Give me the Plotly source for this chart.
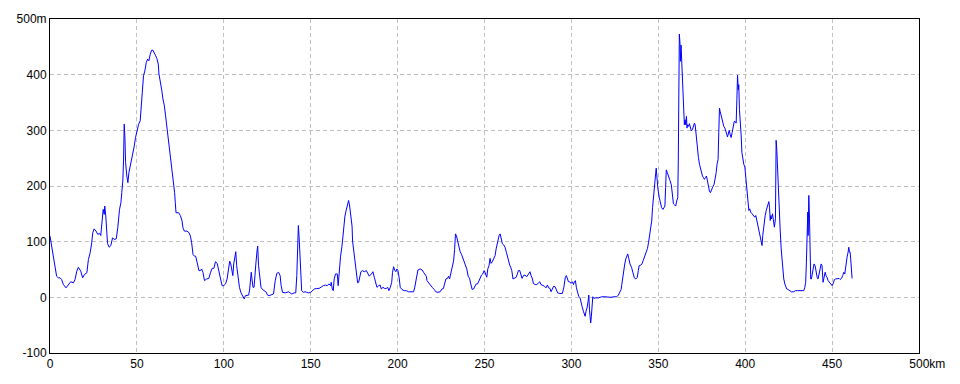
import plotly.graph_objects as go

# ---- elevation profile data (distance in km, elevation in m) ----
km_seg1 = [0, 1.0, 1.9, 2.9, 3.8, 4.8, 5.8, 6.7, 7.7, 9.2,
           10.6, 11.9, 13.5, 14.4, 15.4, 16.3, 17.7, 18.8, 19.8, 21.2,
           22.1, 23.1, 24.0, 24.6, 25.4, 26.5, 27.5, 28.5, 29.2, 29.8,
           30.6, 31.2, 31.5, 32.1, 32.5, 33.1, 34.0, 35.0, 36.0, 36.9,
           38.1, 39.0, 40.0, 40.8, 41.3, 41.9, 42.3, 42.7, 43.1, 43.5,
           44.2, 44.8, 45.4, 46.2, 46.9, 47.7, 48.5, 49.2, 50.0, 51.0,
           51.9, 52.5, 53.1, 53.8, 54.6, 55.4, 56.2, 56.9, 57.7, 58.5,
           59.2, 60.0, 60.8, 61.5, 62.3, 62.7, 63.5, 64.2, 65.0, 65.8,
           66.5, 67.1, 67.7, 68.5, 69.2, 70.0, 70.8, 71.2, 71.7, 72.1,
           72.5, 74.0, 75.0, 76.0, 76.5, 77.3, 78.8, 80.0, 80.8, 81.5,
           82.3, 83.1]
m_seg1 = [110, 92, 74, 56, 38, 35, 35, 32, 23, 17,
          23, 28, 26, 32, 47, 54, 47, 35, 41, 44,
          68, 80, 98, 116, 123, 119, 113, 115, 111, 134,
          158, 149, 164, 146, 119, 97, 90, 93, 107, 104,
          105, 125, 158, 170, 188, 209, 245, 311, 287, 242,
          218, 206, 224, 236, 245, 260, 272, 287, 299, 311,
          317, 350, 380, 398, 407, 422, 428, 425, 437, 444,
          444, 440, 434, 429, 419, 401, 389, 374, 356, 344,
          326, 311, 296, 272, 254, 233, 215, 200, 188, 170,
          152, 152, 147, 137, 125, 119, 119, 116, 110, 98,
          77, 74]

km_seg2 = [83.8, 84.7, 85.7, 86.6, 87.2, 88.0, 88.9, 90.1, 91.4, 92.4,
           93.3, 94.3, 95.2, 96.2, 97.1, 98.1, 99.0, 100.0, 101.0, 101.9,
           102.9, 103.4, 104.0, 104.6, 105.2, 105.7, 106.3, 106.9, 107.4, 108.2,
           109.0, 109.9, 110.9, 111.8, 112.4, 113.4, 114.3, 114.9, 115.5, 115.8,
           116.2, 116.8, 117.4, 117.9, 118.5, 119.1, 119.5, 120.0, 120.6, 121.4,
           122.3, 123.3, 124.2, 125.2, 126.1, 127.7, 128.6, 129.6, 130.5, 131.5,
           132.4, 133.0, 133.8, 135.3, 136.5, 137.2, 138.2, 139.1, 140.5, 141.4,
           142.0, 142.4, 142.9, 143.3, 143.7, 144.3, 144.8, 145.8, 146.8, 147.7,
           148.7, 150.0, 151.0, 152.1, 153.4, 154.8, 156.3, 157.3, 158.6, 159.5,
           160.5, 161.5, 161.8, 162.4, 163.0, 163.5, 164.3, 165.3, 165.8, 166.4,
           167.2]
m_seg2 = [74, 62, 48, 48, 51, 45, 30, 33, 34, 45,
          52, 52, 64, 61, 48, 33, 21, 21, 24, 33,
          57, 65, 60, 48, 39, 60, 74, 82, 57, 33,
          18, 8, 3, -3, 3, 4, 4, 15, 33, 45,
          33, 18, 18, 33, 62, 83, 92, 57, 33, 18,
          14, 12, 10, 4, 3, 5, 6, 30, 43, 45,
          39, 21, 9, 8, 9, 10, 8, 6, 8, 8,
          39, 80, 129, 110, 74, 21, 12, 9, 10, 9,
          8, 9, 12, 15, 16, 16, 19, 21, 22, 21,
          24, 21, 27, 15, 12, 33, 42, 42, 21, 51,
          74]

km_seg3 = [168.0, 168.6, 169.2, 169.7, 170.3, 170.9, 171.5, 171.8, 172.4, 173.2,
           173.8, 174.1, 174.7, 175.3, 175.9, 176.2, 177.0, 177.6, 178.2, 178.9,
           179.7, 180.8, 182.0, 182.8, 183.7, 184.9, 185.8, 186.6, 187.4, 188.1,
           189.1, 190.0, 190.6, 191.6, 192.5, 193.5, 194.3, 195.0, 195.8, 196.6,
           197.1, 197.7, 198.3, 199.0, 199.6, 200.2, 201.0, 201.5, 202.5, 203.8,
           205.0, 206.3, 207.7, 209.2, 209.8, 210.3, 210.9, 211.7, 213.0, 214.2,
           214.9, 215.7, 216.5, 216.9, 217.8, 218.8, 219.9, 221.1, 222.0, 223.2,
           224.5, 225.5, 226.4, 227.0, 227.8, 228.7, 229.3, 229.9, 230.5, 231.2,
           232.2, 232.8, 233.3, 233.9, 234.5, 235.2, 236.0, 236.8, 237.5, 238.3,
           239.1, 239.8, 240.6, 241.4, 242.1, 242.9, 243.7, 244.4, 245.2, 246.0,
           246.7, 247.5, 248.3, 249.0, 249.8]
m_seg3 = [92, 116, 134, 146, 155, 164, 170, 174, 164, 140,
          128, 101, 83, 71, 57, 39, 26, 27, 34, 46,
          48, 46, 48, 42, 38, 42, 46, 36, 27, 18,
          21, 22, 15, 18, 16, 16, 18, 12, 18, 27,
          45, 55, 49, 46, 51, 48, 33, 18, 14, 12,
          12, 10, 10, 10, 17, 27, 38, 49, 51, 49,
          45, 40, 38, 30, 26, 22, 18, 14, 10, 9,
          10, 15, 16, 24, 33, 34, 38, 33, 40, 51,
          65, 86, 114, 110, 101, 88, 82, 77, 71, 65,
          60, 51, 38, 34, 24, 14, 15, 20, 24, 24,
          30, 33, 40, 42, 48]

km_seg4 = [250.3, 251.3, 251.9, 252.6, 253.2, 253.8, 254.5, 255.3, 256.1, 256.7,
           257.2, 257.8, 258.4, 259.0, 259.5, 260.3, 261.1, 261.8, 262.6, 263.2,
           263.8, 264.5, 265.1, 265.7, 266.4, 267.2, 268.2, 268.9, 269.5, 270.3,
           270.8, 271.6, 272.4, 273.3, 274.3, 275.3, 276.2, 276.8, 277.6, 278.1,
           279.1, 280.1, 281.0, 281.8, 282.5, 283.3, 284.5, 285.4, 286.2, 286.9,
           287.7, 288.3, 289.1, 289.8, 290.6, 291.2, 292.1, 293.3, 294.8, 295.6,
           296.0, 296.5, 297.1, 297.7, 298.3, 299.0, 299.8, 300.6, 301.2, 301.7,
           302.3, 302.9, 303.5, 304.2, 305.0, 305.6, 306.1, 306.9, 307.5, 307.9,
           308.4, 309.0, 309.6, 310.0, 310.4, 310.7, 311.1, 311.5, 311.9, 312.3,
           312.9, 313.6, 315.5, 317.5, 319.4, 321.3, 322.8, 324.2, 325.1, 326.1,
           327.0, 327.8, 328.6, 329.0, 329.5, 330.1, 330.7, 331.3, 331.8, 332.4,
           333.0]
m_seg4 = [45, 36, 51, 57, 70, 61, 64, 69, 75, 87,
          96, 108, 111, 114, 105, 96, 94, 90, 81, 72,
          63, 58, 54, 48, 33, 34, 36, 42, 48, 48,
          42, 34, 39, 40, 37, 42, 46, 39, 33, 25,
          23, 23, 25, 28, 23, 22, 20, 17, 22, 17,
          16, 10, 16, 20, 19, 14, 8, 7, 7, 17,
          30, 36, 39, 34, 28, 28, 25, 28, 23, 28,
          30, 17, 8, 2, -1, -7, -16, -25, -29, -34,
          -25, -19, -7, 4, -22, -34, -46, -34, -16, 1,
          -2, -1, -1, 1, 1, 0, 0, 1, 1, 1,
          4, 8, 14, 23, 36, 48, 60, 69, 75, 78,
          70]

km_seg5 = [333.7, 334.6, 335.6, 336.2, 337.1, 337.9, 338.5, 339.0, 340.0, 340.6,
           341.3, 341.9, 342.7, 343.3, 343.8, 344.4, 345.0, 345.6, 346.2, 346.7,
           347.3, 347.9, 348.5, 348.8, 349.2, 349.8, 350.6, 351.2, 351.9, 352.7,
           353.3, 353.8, 354.2, 354.6, 355.2, 356.0, 356.7, 357.5, 358.1, 358.7,
           359.4, 360.0, 360.6, 361.2, 361.5, 361.9, 362.1, 362.5, 362.7, 363.1,
           363.5, 363.8, 364.2, 364.6, 365.0, 365.4, 365.8, 366.2, 366.5, 366.9,
           367.5, 367.9, 368.5, 369.0, 369.6, 370.2, 370.8, 371.2, 371.5, 371.9,
           372.5, 373.1, 373.7, 374.2, 374.8, 375.4, 376.0, 376.5, 377.1, 377.7,
           378.3, 378.8, 379.4, 380.0, 380.6, 381.3, 382.1, 382.7, 383.3, 383.8,
           384.4, 384.8, 385.2, 385.6, 386.0, 386.5, 387.1, 387.7, 388.3, 388.8,
           389.4, 389.8, 390.2, 390.8, 391.3, 391.9, 392.5, 393.1, 393.7, 394.2,
           394.8, 395.2, 395.6, 396.0, 396.3, 396.7, 397.3, 397.7, 398.1, 398.7,
           399.2]
m_seg5 = [60, 54, 42, 35, 33, 36, 48, 57, 58, 60,
          66, 72, 78, 84, 88, 99, 110, 119, 137, 161,
          188, 204, 223, 232, 209, 194, 179, 167, 161, 158,
          161, 164, 197, 229, 224, 218, 210, 202, 185, 168,
          166, 164, 173, 179, 245, 388, 473, 456, 424, 453,
          424, 391, 358, 327, 310, 319, 310, 325, 304, 310,
          307, 312, 304, 299, 301, 307, 313, 310, 299, 281,
          263, 251, 239, 233, 224, 218, 215, 212, 215, 218,
          209, 200, 191, 188, 194, 198, 203, 212, 224, 239,
          248, 296, 340, 334, 328, 319, 313, 307, 304, 300,
          293, 288, 296, 300, 293, 287, 296, 307, 316, 316,
          313, 355, 399, 373, 382, 337, 316, 290, 260, 245,
          239]

km_seg6 = [399.8, 400.3, 400.9, 401.5, 402.1, 402.6, 403.2, 404.0, 404.7, 405.5,
           406.1, 406.7, 407.4, 408.0, 408.6, 409.1, 409.7, 410.1, 410.5, 410.9,
           411.5, 412.1, 412.6, 413.2, 413.6, 414.0, 414.4, 414.7, 415.1, 415.7,
           416.2, 416.8, 417.4, 417.8, 418.2, 418.6, 418.9, 419.5, 420.1, 420.7,
           421.2, 421.8, 422.2, 422.8, 423.4, 423.9, 424.7, 425.6, 426.6, 427.9,
           428.9, 430.1, 431.4, 432.7, 433.7, 434.3, 434.8, 435.2, 435.6, 436.0,
           436.2, 436.6, 437.0, 437.3, 437.7, 438.1, 438.7, 439.3, 439.6, 440.2,
           440.8, 441.4, 441.9, 442.5, 443.1, 443.7, 444.2, 444.8, 445.4, 446.0,
           446.5, 447.1, 447.7, 448.5, 449.2, 450.0, 450.8, 451.3, 452.1, 453.1,
           454.0, 454.6, 455.4, 456.1, 456.7, 457.3, 457.7, 458.1, 458.6, 459.2,
           459.6, 460.0, 460.4, 460.7, 461.1, 461.5]
m_seg6 = [234, 219, 195, 174, 156, 159, 153, 150, 147, 144,
          147, 138, 129, 120, 108, 99, 93, 111, 123, 135,
          147, 156, 162, 166, 172, 162, 138, 147, 141, 150,
          135, 126, 141, 282, 264, 228, 195, 159, 123, 87,
          66, 51, 33, 24, 18, 15, 14, 12, 10, 10,
          12, 12, 12, 12, 12, 18, 27, 62, 111, 153,
          111, 183, 141, 33, 33, 33, 42, 57, 60, 57,
          45, 36, 33, 45, 51, 60, 57, 27, 39, 45,
          39, 36, 30, 27, 24, 21, 26, 32, 33, 34,
          34, 32, 34, 39, 45, 42, 54, 63, 72, 81,
          90, 81, 81, 69, 45, 34]

x_tick_vals = [0, 50, 100, 150, 200, 250, 300, 350, 400, 450, 500]
x_tick_text = ["0", "50", "100", "150", "200", "250", "300", "350", "400", "450",
               "\u00a0\u00a0\u00a0\u00a0\u00a0500km"]
y_tick_vals = [-100, 0, 100, 200, 300, 400, 500]
y_tick_text = ["-100", "0", "100", "200", "300", "400", "500m"]

distance_km = km_seg1 + km_seg2 + km_seg3 + km_seg4 + km_seg5 + km_seg6
elevation_m = m_seg1 + m_seg2 + m_seg3 + m_seg4 + m_seg5 + m_seg6
assert len(distance_km) == len(elevation_m), (len(distance_km), len(elevation_m))

fig = go.Figure(go.Scatter(
    x=distance_km, y=elevation_m, mode="lines",
    line=dict(color="#0000ff", width=1), hoverinfo="skip"))

axis_common = dict(
    showgrid=True, gridcolor="#c0c0c0", gridwidth=1, griddash="4px,3px",
    showline=True, mirror=True, linecolor="#000000", linewidth=1,
    zeroline=False, ticks="", tickfont=dict(family="Liberation Sans", size=12, color="#000000"),
)

fig.update_layout(
    width=960, height=384,
    margin=dict(l=50, r=41, t=19, b=31, pad=0),
    paper_bgcolor="#ffffff", plot_bgcolor="#ffffff",
    showlegend=False,
    xaxis=dict(range=[0, 500], tickmode="array", tickvals=x_tick_vals,
               ticktext=x_tick_text, **axis_common),
    yaxis=dict(range=[-100, 500], tickmode="array", tickvals=y_tick_vals,
               ticktext=y_tick_text, **axis_common),
)

fig.write_html("out.html", config={"displayModeBar": False})
